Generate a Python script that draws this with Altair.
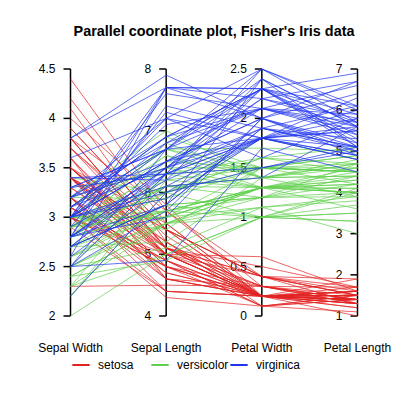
import altair as alt
import pandas as pd

title_text = "Parallel coordinate plot, Fisher's Iris data"
dims = ["Sepal Width", "Sepal Length", "Petal Width", "Petal Length"]
axis_min = [2, 4, 0, 1]
axis_max = [4.5, 8, 2.5, 7]
tick_values = [
    [2, 2.5, 3, 3.5, 4, 4.5],
    [4, 5, 6, 7, 8],
    [0, 0.5, 1, 1.5, 2, 2.5],
    [1, 2, 3, 4, 5, 6, 7],
]
species_names = ["setosa", "versicolor", "virginica"]
species_colors = ["#E32222", "#61D04F", "#1F35EE"]

sepal_length = [
    5.1, 4.9, 4.7, 4.6, 5.0, 5.4, 4.6, 5.0, 4.4, 4.9, 5.4, 4.8, 4.8, 4.3, 5.8, 5.7, 5.4, 5.1, 5.7, 5.1,
    5.4, 5.1, 4.6, 5.1, 4.8, 5.0, 5.0, 5.2, 5.2, 4.7, 4.8, 5.4, 5.2, 5.5, 4.9, 5.0, 5.5, 4.9, 4.4, 5.1,
    5.0, 4.5, 4.4, 5.0, 5.1, 4.8, 5.1, 4.6, 5.3, 5.0,
    7.0, 6.4, 6.9, 5.5, 6.5, 5.7, 6.3, 4.9, 6.6, 5.2, 5.0, 5.9, 6.0, 6.1, 5.6, 6.7, 5.6, 5.8, 6.2, 5.6,
    5.9, 6.1, 6.3, 6.1, 6.4, 6.6, 6.8, 6.7, 6.0, 5.7, 5.5, 5.5, 5.8, 6.0, 5.4, 6.0, 6.7, 6.3, 5.6, 5.5,
    5.5, 6.1, 5.8, 5.0, 5.6, 5.7, 5.7, 6.2, 5.1, 5.7,
    6.3, 5.8, 7.1, 6.3, 6.5, 7.6, 4.9, 7.3, 6.7, 7.2, 6.5, 6.4, 6.8, 5.7, 5.8, 6.4, 6.5, 7.7, 7.7, 6.0,
    6.9, 5.6, 7.7, 6.3, 6.7, 7.2, 6.2, 6.1, 6.4, 7.2, 7.4, 7.9, 6.4, 6.3, 6.1, 7.7, 6.3, 6.4, 6.0, 6.9,
    6.7, 6.9, 5.8, 6.8, 6.7, 6.7, 6.3, 6.5, 6.2, 5.9,
]
sepal_width = [
    3.5, 3.0, 3.2, 3.1, 3.6, 3.9, 3.4, 3.4, 2.9, 3.1, 3.7, 3.4, 3.0, 3.0, 4.0, 4.4, 3.9, 3.5, 3.8, 3.8,
    3.4, 3.7, 3.6, 3.3, 3.4, 3.0, 3.4, 3.5, 3.4, 3.2, 3.1, 3.4, 4.1, 4.2, 3.1, 3.2, 3.5, 3.6, 3.0, 3.4,
    3.5, 2.3, 3.2, 3.5, 3.8, 3.0, 3.8, 3.2, 3.7, 3.3,
    3.2, 3.2, 3.1, 2.3, 2.8, 2.8, 3.3, 2.4, 2.9, 2.7, 2.0, 3.0, 2.2, 2.9, 2.9, 3.1, 3.0, 2.7, 2.2, 2.5,
    3.2, 2.8, 2.5, 2.8, 2.9, 3.0, 2.8, 3.0, 2.9, 2.6, 2.4, 2.4, 2.7, 2.7, 3.0, 3.4, 3.1, 2.3, 3.0, 2.5,
    2.6, 3.0, 2.6, 2.3, 2.7, 3.0, 2.9, 2.9, 2.5, 2.8,
    3.3, 2.7, 3.0, 2.9, 3.0, 3.0, 2.5, 2.9, 2.5, 3.6, 3.2, 2.7, 3.0, 2.5, 2.8, 3.2, 3.0, 3.8, 2.6, 2.2,
    3.2, 2.8, 2.8, 2.7, 3.3, 3.2, 2.8, 3.0, 2.8, 3.0, 2.8, 3.8, 2.8, 2.8, 2.6, 3.0, 3.4, 3.1, 3.0, 3.1,
    3.1, 3.1, 2.7, 3.2, 3.3, 3.0, 2.5, 3.0, 3.4, 3.0,
]
petal_length = [
    1.4, 1.4, 1.3, 1.5, 1.4, 1.7, 1.4, 1.5, 1.4, 1.5, 1.5, 1.6, 1.4, 1.1, 1.2, 1.5, 1.3, 1.4, 1.7, 1.5,
    1.7, 1.5, 1.0, 1.7, 1.9, 1.6, 1.6, 1.5, 1.4, 1.6, 1.6, 1.5, 1.5, 1.4, 1.5, 1.2, 1.3, 1.4, 1.3, 1.5,
    1.3, 1.3, 1.3, 1.6, 1.9, 1.4, 1.6, 1.4, 1.5, 1.4,
    4.7, 4.5, 4.9, 4.0, 4.6, 4.5, 4.7, 3.3, 4.6, 3.9, 3.5, 4.2, 4.0, 4.7, 3.6, 4.4, 4.5, 4.1, 4.5, 3.9,
    4.8, 4.0, 4.9, 4.7, 4.3, 4.4, 4.8, 5.0, 4.5, 3.5, 3.8, 3.7, 3.9, 5.1, 4.5, 4.5, 4.7, 4.4, 4.1, 4.0,
    4.4, 4.6, 4.0, 3.3, 4.2, 4.2, 4.2, 4.3, 3.0, 4.1,
    6.0, 5.1, 5.9, 5.6, 5.8, 6.6, 4.5, 6.3, 5.8, 6.1, 5.1, 5.3, 5.5, 5.0, 5.1, 5.3, 5.5, 6.7, 6.9, 5.0,
    5.7, 4.9, 6.7, 4.9, 5.7, 6.0, 4.8, 4.9, 5.6, 5.8, 6.1, 6.4, 5.6, 5.1, 5.6, 6.1, 5.6, 5.5, 4.8, 5.4,
    5.6, 5.1, 5.1, 5.9, 5.7, 5.2, 5.0, 5.2, 5.4, 5.1,
]
petal_width = [
    0.2, 0.2, 0.2, 0.2, 0.2, 0.4, 0.3, 0.2, 0.2, 0.1, 0.2, 0.2, 0.1, 0.1, 0.2, 0.4, 0.4, 0.3, 0.3, 0.3,
    0.2, 0.4, 0.2, 0.5, 0.2, 0.2, 0.4, 0.2, 0.2, 0.2, 0.2, 0.4, 0.1, 0.2, 0.2, 0.2, 0.2, 0.1, 0.2, 0.2,
    0.3, 0.3, 0.2, 0.6, 0.4, 0.3, 0.2, 0.2, 0.2, 0.2,
    1.4, 1.5, 1.5, 1.3, 1.5, 1.3, 1.6, 1.0, 1.3, 1.4, 1.0, 1.5, 1.0, 1.4, 1.3, 1.4, 1.5, 1.0, 1.5, 1.1,
    1.8, 1.3, 1.5, 1.2, 1.3, 1.4, 1.4, 1.7, 1.5, 1.0, 1.1, 1.0, 1.2, 1.6, 1.5, 1.6, 1.5, 1.3, 1.3, 1.3,
    1.2, 1.4, 1.2, 1.0, 1.3, 1.2, 1.3, 1.3, 1.1, 1.3,
    2.5, 1.9, 2.1, 1.8, 2.2, 2.1, 1.7, 1.8, 1.8, 2.5, 2.0, 1.9, 2.1, 2.0, 2.4, 2.3, 1.8, 2.2, 2.3, 1.5,
    2.3, 2.0, 2.0, 1.8, 2.1, 1.8, 1.8, 1.8, 2.1, 1.6, 1.9, 2.0, 2.2, 1.5, 1.4, 2.3, 2.4, 1.8, 1.8, 2.1,
    2.4, 2.3, 1.9, 2.3, 2.5, 2.3, 1.9, 2.0, 2.3, 1.8,
]
species_per_row = ["setosa"] * 50 + ["versicolor"] * 50 + ["virginica"] * 50

FONT = "Liberation Sans"

# long table of the lines
columns = [sepal_width, sepal_length, petal_width, petal_length]
rows = []
for i in range(len(sepal_length)):
    for k, col in enumerate(columns):
        rows.append({"id": i, "species": species_per_row[i], "k": k, "value": col[i],
                     "lo": axis_min[k], "hi": axis_max[k]})
lines_df = pd.DataFrame(rows)

tick_rows = []
for k, vals in enumerate(tick_values):
    for v in vals:
        tick_rows.append({"k": k, "value": v, "label": f"{v:g}", "lo": axis_min[k], "hi": axis_max[k]})
ticks_df = pd.DataFrame(tick_rows)

axes_df = pd.DataFrame({"k": list(range(len(dims))), "dim": dims, "y0": 0.0, "y1": 1.0})

xs = alt.Scale(domain=[0, 3], range=[62.5, 349.5])
ys = alt.Scale(domain=[0, 1], range=[308, 61])
norm_expr = "(datum.value - datum.lo) / (datum.hi - datum.lo)"

axis_rules = alt.Chart(axes_df).mark_rule(color="black", strokeWidth=1.5).encode(
    x=alt.X("k:Q", scale=xs, axis=None),
    y=alt.Y("y0:Q", scale=ys, axis=None),
    y2="y1:Q",
)

tick_marks = alt.Chart(ticks_df).transform_calculate(norm=norm_expr).mark_tick(
    orient="horizontal", size=7, thickness=1.5, xOffset=-3.5, color="black", opacity=1
).encode(
    x=alt.X("k:Q", scale=xs, axis=None),
    y=alt.Y("norm:Q", scale=ys, axis=None),
)

tick_labels = alt.Chart(ticks_df).transform_calculate(norm=norm_expr).mark_text(
    align="right", baseline="middle", dx=-15, fontSize=12, font=FONT, color="black"
).encode(
    x=alt.X("k:Q", scale=xs, axis=None),
    y=alt.Y("norm:Q", scale=ys, axis=None),
    text="label:N",
)

lines = alt.Chart(lines_df).transform_calculate(norm=norm_expr).mark_line(
    strokeWidth=1, opacity=0.7
).encode(
    x=alt.X("k:Q", scale=xs, axis=None),
    y=alt.Y("norm:Q", scale=ys, axis=None),
    detail="id:N",
    order="k:Q",
    color=alt.Color(
        "species:N",
        scale=alt.Scale(domain=species_names, range=species_colors),
        legend=alt.Legend(
            title=None, orient="none", legendX=63, legendY=347, direction="horizontal",
            symbolType="stroke", symbolStrokeWidth=2, symbolSize=300, symbolOpacity=1,
            labelFontSize=12, labelFont=FONT, labelColor="black", labelOffset=7,
            gridAlign="all", columnPadding=-11, padding=0,
        ),
    ),
)

dim_labels = alt.Chart(axes_df).mark_text(
    align="center", baseline="middle", fontSize=12, font=FONT, color="black"
).encode(
    x=alt.X("k:Q", scale=xs, axis=None),
    y=alt.value(340),
    text="dim:N",
)

title = alt.Chart(pd.DataFrame({"t": [title_text]})).mark_text(
    align="center", baseline="middle", fontSize=14.4, fontWeight="bold", font=FONT, color="black"
).encode(
    x=alt.value(206),
    y=alt.value(24),
    text="t:N",
)

chart = alt.layer(axis_rules, tick_marks, tick_labels, lines, dim_labels, title).properties(
    width=384, height=384, autosize=alt.AutoSizeParams(type="none"), padding=0
).configure_view(stroke=None)

chart.save("out.html", embed_options={"renderer": "svg", "actions": False})
